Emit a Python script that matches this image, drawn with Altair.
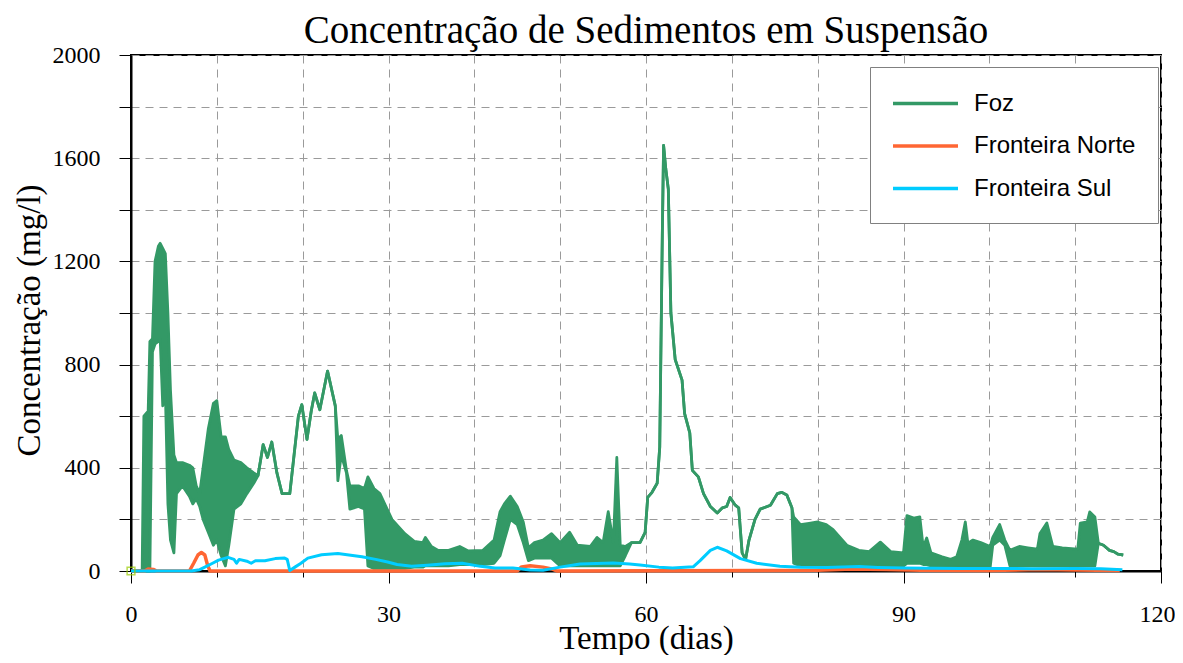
import altair as alt
import pandas as pd

# ---------------- data ----------------
T_FOZ = [0.0, 1.3, 1.5, 2.0, 2.2, 2.5, 2.8, 3.2, 3.4, 3.7,
         4.0, 4.3, 4.6, 5.0, 5.3, 6.0, 6.8, 7.2, 7.6, 8.0,
         8.4, 9.0, 9.6, 10.0, 10.5, 11.0, 11.4, 12.0, 12.8, 13.5,
         14.3, 14.8, 15.4, 15.9, 16.4, 17.0, 17.6, 18.5, 19.0, 19.5,
         19.9, 20.5, 21.0, 21.4, 22.0, 22.9, 23.8, 24.1, 24.5, 25.1,
         25.5, 26.5, 27.2, 27.6, 28.3, 29.0, 30.4, 31.9, 33.0, 34.0,
         34.3, 35.0, 35.8, 37.0, 38.3, 39.3, 41.0, 42.3, 43.0, 43.5,
         44.2, 45.0, 45.7, 46.3, 47.0, 48.0, 49.0, 50.0, 51.1, 52.0,
         53.5, 54.3, 55.0, 55.6, 56.2, 56.6, 57.0, 57.6, 58.3, 59.3,
         59.9, 60.2, 60.7, 61.3, 61.6, 61.9, 62.05, 62.3, 62.6, 62.9,
         63.4, 64.2, 64.5, 65.1, 65.4, 66.1, 66.7, 67.5, 68.3, 68.9,
         69.4, 69.8, 70.4, 70.8, 71.2, 71.6, 72.0, 72.7, 73.3, 74.5,
         75.3, 75.8, 76.4, 77.0, 77.2, 78.0, 79.0, 80.0, 81.0, 81.8,
         82.6, 83.4, 84.8, 86.0, 87.3, 88.5, 90.0, 90.4, 91.2, 91.9,
         92.3, 92.7, 93.2, 94.5, 95.5, 96.2, 96.8, 97.2, 97.5, 98.1,
         99.0, 100.1, 100.4, 101.2, 101.8, 102.4, 103.5, 104.5, 105.6, 105.9,
         106.7, 107.4, 108.5, 110.3, 110.6, 111.4, 111.7, 112.3, 112.7, 113.3,
         114.0, 114.5, 115.0, 115.6]
FOZ_HI = [0, 0, 600, 620, 890, 900, 1200, 1260, 1270, 1250,
          1230, 1000, 700, 450, 420, 420, 410, 400, 330, 300,
          400, 550, 650, 660, 520, 520, 470, 430, 420, 400,
          380, 370, 490, 440, 500, 380, 300, 300, 450, 600,
          645, 510, 620, 690, 625, 775, 640, 510, 525, 390,
          330, 330, 320, 365, 320, 300, 200, 145, 115, 110,
          130, 95, 80, 80, 95, 78, 80, 120, 230, 260,
          290, 250, 190, 90, 110, 120, 145, 110, 150, 100,
          95, 130, 110, 230, 110, 440, 100, 95, 110, 110,
          150, 285, 305, 340, 480, 1300, 1650, 1560, 1480, 1000,
          820, 740, 610, 535, 390, 365, 300, 250, 225, 245,
          250, 285, 255, 245, 70, 45, 120, 200, 240, 255,
          300, 305, 295, 245, 210, 180, 185, 190, 180, 160,
          130, 100, 80, 75, 112, 75, 70, 215, 205, 210,
          90, 128, 70, 55, 45, 55, 120, 190, 108, 120,
          110, 95, 130, 180, 120, 80, 95, 90, 85, 145,
          186, 95, 90, 85, 186, 190, 229, 209, 108, 100,
          80, 75, 65, 62]
FOZ_LO = [0, 0, 0, 0, 0, 850, 880, 890, 900, 640,
          700, 260, 120, 70, 300, 330, 290, 260, 280, 250,
          200, 150, 100, 120, 60, 20, 100, 240, 260, 300,
          340, 370, 490, 440, 500, 380, 300, 300, 450, 600,
          645, 510, 620, 690, 625, 775, 640, 350, 450, 380,
          240, 250, 240, 20, 10, 10, 10, 10, 15, 15,
          20, 20, 20, 20, 25, 25, 25, 30, 60, 120,
          200, 180, 110, 40, 50, 50, 50, 20, 20, 20,
          20, 20, 20, 20, 20, 20, 20, 60, 110, 110,
          150, 285, 305, 340, 480, 1300, 1650, 1560, 1480, 1000,
          820, 740, 610, 535, 390, 365, 300, 250, 225, 245,
          250, 285, 255, 245, 70, 45, 120, 200, 240, 255,
          300, 305, 295, 245, 30, 20, 20, 25, 25, 25,
          20, 20, 20, 20, 20, 20, 20, 30, 30, 30,
          25, 25, 20, 20, 15, 15, 15, 15, 15, 15,
          15, 15, 100, 120, 100, 20, 20, 20, 20, 20,
          20, 20, 20, 20, 20, 20, 20, 20, 108, 100,
          80, 75, 65, 62]

T_NORTE = [0, 1.6, 2.0, 2.6, 3.0, 6.8, 7.3, 7.8, 8.2, 8.6,
           8.9, 9.2, 45.0, 45.5, 46.5, 48.0, 49.0, 49.6, 80, 84,
           88, 92, 100, 106, 110, 115.2]
NORTE = [0, 0, 8, 6, 0, 0, 30, 62, 72, 62,
         25, 0, 0, 16, 20, 15, 8, 0, 3, 8,
         6, 3, 2, 6, 4, 2]

T_SUL = [0, 7.0, 8.0, 8.6, 9.5, 10.2, 11.3, 12.0, 12.3, 12.6,
         13.5, 14.0, 14.5, 15.6, 16.8, 17.9, 18.2, 18.5, 19.1, 19.8,
         20.6, 22.2, 24.1, 26.9, 28.5, 29.9, 31.0, 32.7, 34.5, 36.6,
         38.6, 40.7, 42.4, 44.5, 46.5, 48.0, 50.0, 52.3, 56.2, 58.1,
         59.3, 61.5, 63.1, 65.5, 66.3, 67.5, 68.3, 69.4, 71.0, 72.9,
         75.6, 78.0, 81.1, 84.8, 87.0, 90.0, 96.6, 100.0, 105.0, 110.0,
         113.0, 115.5]
SUL = [0, 0, 5, 15, 30, 42, 53, 45, 30, 45,
       38, 30, 40, 40, 48, 50, 45, 2, 15, 30,
       50, 63, 68, 55, 45, 35, 25, 18, 22, 28,
       30, 18, 12, 12, 4, 3, 15, 27, 31, 27,
       23, 15, 12, 16, 40, 80, 92, 78, 48, 30,
       18, 15, 14, 17, 14, 12, 10, 10, 9, 10,
       9, 5]

SERIES = ["Foz", "Fronteira Norte", "Fronteira Sul"]
COLORS = ["#339966", "#ff6633", "#00ccff"]

X_TICKS = list(range(0, 121, 10))
Y_TICKS = list(range(0, 2001, 200))

TITLE = "Concentração de Sedimentos em Suspensão"
X_TITLE = "Tempo (dias)"
Y_TITLE = "Concentração (mg/l)"

# ---------------- frames ----------------
foz = pd.DataFrame({"t": T_FOZ, "hi": FOZ_HI, "lo": FOZ_LO})
foz["serie"] = SERIES[0]
norte = pd.DataFrame({"t": T_NORTE, "v": NORTE})
norte["serie"] = SERIES[1]
sul = pd.DataFrame({"t": T_SUL, "v": SUL})
sul["serie"] = SERIES[2]
origin = pd.DataFrame({"t": [0], "v": [0]})

SERIF = "Liberation Serif"
SANS = "Liberation Sans"

x_scale = alt.Scale(domain=[0, 120], nice=False)
y_scale = alt.Scale(domain=[0, 2000], nice=False)

x_axis = alt.Axis(
    values=X_TICKS,
    labelExpr="datum.value % 30 === 0 ? datum.label : ''",
    labelFlush=False,
    labelOffset={"condition": {"test": "datum.value === 120", "value": -4}, "value": 0},
    labelFont=SERIF, labelFontSize=24, labelColor="black", labelPadding=19,
    tickSize={"condition": {"test": "datum.value % 30 === 0", "value": 12}, "value": 6},
    tickColor="black", tickWidth=1,
    domainColor="black", domainWidth=2,
    grid=True, gridDash=[8, 6], gridColor="#9a9a9a", gridWidth=1,
    titleFont=SERIF, titleFontSize=33, titleFontWeight="normal", titleColor="black",
    titleX=515, titleY=77, titleAlign="center", titleBaseline="alphabetic",
)
y_axis = alt.Axis(
    values=Y_TICKS,
    format="d",
    labelExpr="datum.value % 400 === 0 ? datum.label : ''",
    labelFont=SERIF, labelFontSize=24, labelColor="black", labelPadding=19,
    tickSize=12, tickColor="black", tickWidth=1,
    domainColor="black", domainWidth=2,
    grid=True, gridDash=[8, 6], gridColor="#9a9a9a", gridWidth=1,
    titleFont=SERIF, titleFontSize=33, titleFontWeight="normal", titleColor="black",
    titleX=-92, titleY=265, titleAngle=-90, titleAlign="center", titleBaseline="alphabetic",
)

legend = alt.Legend(
    title=None, orient="none", legendX=739, legendY=12, direction="vertical",
    symbolType="M-1.08,0H4.12", symbolSize=625, symbolStrokeWidth=3.5,
    labelFont=SANS, labelFontSize=24, labelColor="black", labelOffset=53, labelLimit=400,
    rowPadding=15.5, padding=22,
    strokeColor="#808080", fillColor="white",
)
color = alt.Color("serie:N", scale=alt.Scale(domain=SERIES, range=COLORS), legend=legend)


def X():
    return alt.X("t:Q", scale=x_scale, axis=x_axis, title=X_TITLE)


def Y(field):
    return alt.Y(field, scale=y_scale, axis=y_axis, title=Y_TITLE)


foz_band = alt.Chart(foz).mark_area(color=COLORS[0], opacity=1).encode(
    x=X(), y=Y("lo:Q"), y2="hi:Q"
)
foz_lo = alt.Chart(foz).mark_line(strokeWidth=2.8, strokeJoin="round").encode(
    x=X(), y=Y("lo:Q"), color=color
)
foz_hi = alt.Chart(foz).mark_line(strokeWidth=2.8, strokeJoin="round").encode(
    x=X(), y=Y("hi:Q"), color=color
)
norte_line = alt.Chart(norte).mark_line(strokeWidth=3.5, strokeJoin="round").encode(
    x=X(), y=Y("v:Q"), color=color
)
sul_line = alt.Chart(sul).mark_line(strokeWidth=3, strokeJoin="round").encode(
    x=X(), y=Y("v:Q"), color=color
)
origin_pt = alt.Chart(origin).mark_point(
    shape="square", size=60, filled=False, color="#99cc00", strokeWidth=1.5
).encode(x=X(), y=Y("v:Q"))

chart = alt.layer(foz_band, foz_lo, foz_hi, norte_line, sul_line, origin_pt).properties(
    width=1030,
    height=516,
    autosize=alt.AutoSizeParams(type="none"),
    padding={"left": 123, "top": 47, "right": 14, "bottom": 84},
    title=alt.TitleParams(
        TITLE, font=SERIF, fontSize=39, fontWeight="normal", color="black",
        anchor="middle", baseline="alphabetic", offset=4, frame="group", dy=43,
    ),
    background="white",
).configure_view(stroke="black", strokeWidth=2)

chart.save("out.html", embed_options={"renderer": "svg", "actions": False})
